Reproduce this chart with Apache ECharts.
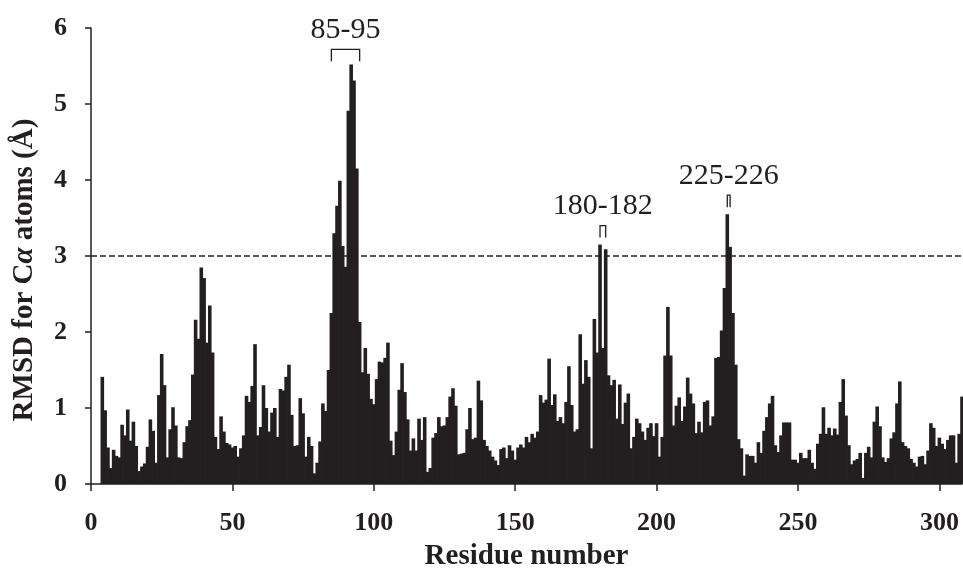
<!DOCTYPE html>
<html>
<head>
<meta charset="utf-8">
<script src="https://cdn.jsdelivr.net/npm/echarts@6/dist/echarts.min.js"></script>
<style>
  html, body { margin: 0; padding: 0; background: #fff; }
  #chart { width: 963px; height: 576px; }
</style>
</head>
<body>
<div id="chart"></div>
<script>
// RMSD per residue (residues 4..308)
const firstResidue = 4
const rmsd004to038 = [1.41, 0.97, 0.48, 0.21, 0.45, 0.37, 0.35, 0.78, 0.64, 0.98, 0.57, 0.82, 0.50, 0.17, 0.23, 0.27, 0.49, 0.85, 0.70, 0.28, 1.17, 1.71, 1.30, 0.35, 0.72, 1.01, 0.77, 0.35, 0.34, 0.55, 0.76, 0.84, 1.44, 2.16, 1.91]
const rmsd039to077 = [2.85, 2.71, 1.86, 2.35, 1.73, 0.62, 0.46, 0.89, 0.69, 0.54, 0.52, 0.48, 0.50, 0.36, 0.47, 0.64, 1.16, 1.08, 1.29, 1.84, 0.64, 0.75, 1.30, 1.00, 0.69, 0.94, 1.00, 0.62, 1.25, 1.23, 1.41, 1.57, 0.91, 0.50, 0.51, 1.13, 0.93, 0.36, 0.62]
const rmsd078to119 = [0.50, 0.14, 0.28, 0.56, 1.06, 0.96, 1.50, 2.25, 3.30, 3.66, 3.99, 3.13, 2.86, 4.91, 5.52, 5.31, 4.15, 2.13, 1.47, 1.79, 1.45, 1.12, 1.05, 1.38, 1.61, 1.60, 1.66, 1.86, 0.57, 0.38, 0.69, 1.24, 1.59, 1.21, 0.85, 0.44, 0.60, 0.44, 0.86, 0.58, 0.88, 0.16]
const rmsd120to154 = [0.21, 0.61, 0.67, 0.88, 0.76, 0.77, 0.88, 1.15, 1.26, 1.03, 0.39, 0.40, 0.41, 0.72, 1.00, 0.59, 0.61, 1.36, 1.10, 0.58, 0.50, 0.44, 0.36, 0.31, 0.25, 0.46, 0.48, 0.34, 0.51, 0.44, 0.32, 0.48, 0.52, 0.48, 0.62]
const rmsd155to190 = [0.55, 0.66, 0.61, 0.69, 1.17, 1.07, 1.11, 1.65, 1.04, 1.18, 0.83, 0.88, 0.80, 1.08, 1.55, 1.04, 0.69, 0.72, 1.97, 1.32, 1.63, 1.41, 0.47, 2.17, 1.73, 3.15, 1.79, 3.09, 1.43, 1.30, 1.37, 0.86, 1.31, 0.79, 1.07, 1.19]
const rmsd191to232 = [0.47, 0.62, 0.86, 0.80, 0.69, 0.58, 0.74, 0.80, 0.63, 0.80, 0.36, 0.62, 1.69, 2.33, 1.69, 0.77, 1.03, 1.14, 0.83, 1.02, 1.40, 1.19, 1.06, 0.67, 0.82, 0.68, 1.08, 1.10, 0.77, 0.89, 1.66, 1.67, 2.02, 2.58, 3.55, 3.12, 2.25, 1.57, 0.59, 0.47, 0.11, 0.39]
const rmsd233to271 = [0.37, 0.37, 0.28, 0.55, 0.41, 0.70, 0.88, 1.06, 1.16, 0.51, 0.42, 0.64, 0.81, 0.81, 0.81, 0.32, 0.32, 0.28, 0.41, 0.34, 0.34, 0.45, 0.28, 0.20, 0.53, 0.66, 1.01, 0.66, 0.74, 0.64, 0.73, 0.65, 1.08, 1.38, 0.90, 0.51, 0.26, 0.31, 0.33]
const rmsd272to308 = [0.41, 0.08, 0.41, 0.49, 0.35, 0.82, 1.02, 0.76, 0.35, 0.29, 0.34, 0.60, 0.68, 1.06, 1.35, 0.55, 0.50, 0.47, 0.33, 0.28, 0.23, 0.36, 0.37, 0.26, 0.44, 0.80, 0.74, 0.50, 0.61, 0.53, 0.46, 0.58, 0.64, 0.64, 0.28, 0.66, 1.15]

const xTicks = [0, 50, 100, 150, 200, 250, 300]
const yTicks = [0, 1, 2, 3, 4, 5, 6]
const threshold = 3

// annotated regions: label, first and last residue, bracket height (Å)
const annoLabels = ['85-95', '180-182', '225-226']
const annoFrom = [85, 180, 225]
const annoTo = [95, 182, 226]
const annoTop = [5.72, 3.40, 3.80]

const ink = '#231f20'
const serif = '"Liberation Serif", "Times New Roman", serif'

const rmsd = [].concat(rmsd004to038, rmsd039to077, rmsd078to119, rmsd120to154,
  rmsd155to190, rmsd191to232, rmsd233to271, rmsd272to308)
const barData = rmsd.map((v, i) => [firstResidue + i, v])
const annoData = annoLabels.map((l, i) => [annoFrom[i], annoTo[i], annoTop[i]])

const chart = echarts.init(document.getElementById('chart'))

chart.setOption({
  animation: false,
  backgroundColor: '#fff',
  grid: { left: 91, right: 1, top: 28, bottom: 84 },
  xAxis: {
    type: 'value',
    min: 0,
    max: 308,
    name: 'Residue number',
    nameLocation: 'middle',
    nameGap: 58,
    nameTextStyle: { fontFamily: serif, fontWeight: 'bold', fontSize: 29, color: ink },
    axisLine: { lineStyle: { color: ink, width: 1.5 } },
    axisTick: { customValues: xTicks, length: 7, lineStyle: { color: ink, width: 1.5 } },
    axisLabel: { customValues: xTicks, margin: 26, fontFamily: serif, fontWeight: 'bold', fontSize: 26, color: ink },
    splitLine: { show: false }
  },
  yAxis: {
    type: 'value',
    min: 0,
    max: 6,
    interval: 1,
    name: 'RMSD for C{it|α} atoms (Å)',
    nameLocation: 'middle',
    nameRotate: 90,
    nameGap: 52,
    nameTextStyle: {
      fontFamily: serif, fontWeight: 'bold', fontSize: 29, color: ink,
      padding: [0, 28, 0, 0],
      rich: { it: { fontFamily: serif, fontStyle: 'italic', fontWeight: 'bold', fontSize: 29, color: ink } }
    },
    axisLine: { show: true, lineStyle: { color: ink, width: 1.5 } },
    axisTick: { show: true, length: 6, lineStyle: { color: ink, width: 1.5 } },
    axisLabel: { margin: 24, fontFamily: serif, fontWeight: 'bold', fontSize: 26, color: ink },
    splitLine: { show: false }
  },
  series: [
    {
      type: 'bar',
      data: barData,
      barWidth: 3.6,
      itemStyle: { color: ink },
      markLine: {
        silent: true,
        symbol: 'none',
        label: { show: false },
        lineStyle: { color: ink, type: [6, 3], width: 1.6 },
        data: [{ yAxis: threshold }]
      }
    },
    {
      type: 'custom',
      data: annoData,
      clip: false,
      silent: true,
      renderItem: (params, api) => {
        const a = api.coord([api.value(0), api.value(2)])
        const b = api.coord([api.value(1), api.value(2)])
        const leg = 12
        return {
          type: 'group',
          children: [
            {
              type: 'polyline',
              shape: { points: [[a[0], a[1] + leg], [a[0], a[1]], [b[0], b[1]], [b[0], b[1] + leg]] },
              style: { stroke: ink, lineWidth: 1.3, fill: null }
            },
            {
              type: 'text',
              style: {
                text: annoLabels[params.dataIndex],
                x: (a[0] + b[0]) / 2,
                y: a[1] - 19,
                align: 'center',
                verticalAlign: 'middle',
                fontFamily: serif,
                fontSize: 30,
                fill: ink
              }
            }
          ]
        }
      }
    }
  ]
})
</script>
</body>
</html>
